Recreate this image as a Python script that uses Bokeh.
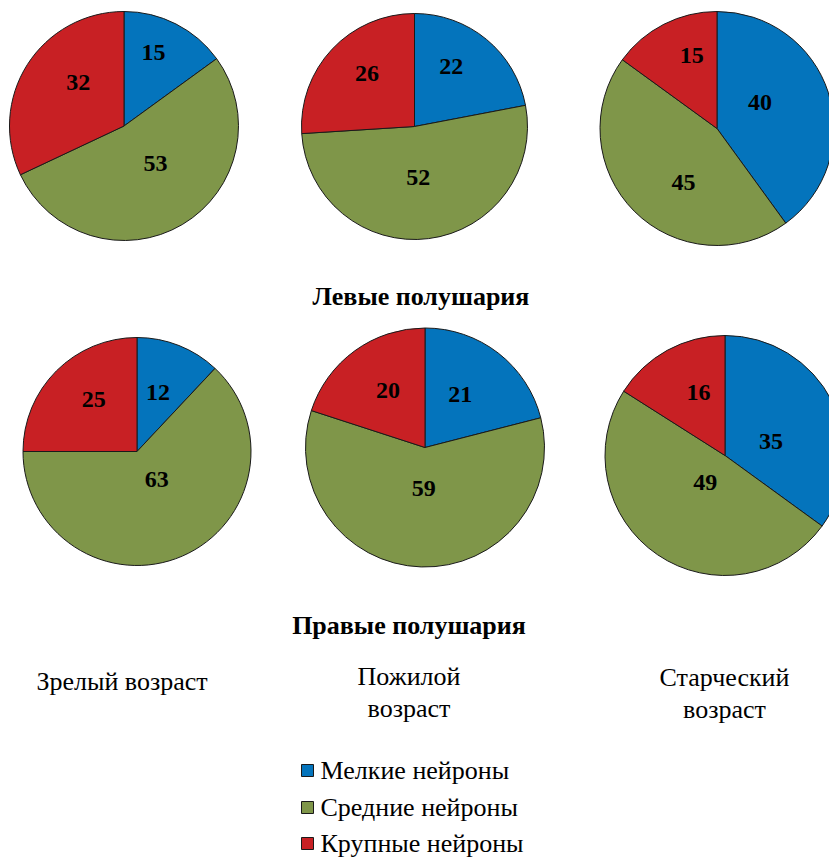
import math
from bokeh.plotting import figure
from bokeh.models import Range1d, ColumnDataSource
from bokeh.embed import file_html
from bokeh.resources import INLINE
from bokeh.core.properties import value

# ---------------- data ----------------
categories = ["Мелкие нейроны", "Средние нейроны", "Крупные нейроны"]
age_groups = ["Зрелый возраст", "Пожилой\nвозраст", "Старческий\nвозраст"]
hemispheres = ["Левые полушария", "Правые полушария"]

left_mature = [15, 53, 32]
left_elderly = [22, 52, 26]
left_senile = [40, 45, 15]
right_mature = [12, 63, 25]
right_elderly = [21, 59, 20]
right_senile = [35, 49, 16]

colors = ["#0474BC", "#7F9649", "#C82024"]

# ---------------- layout (page pixels, y grows downward) ----------------
W, H = 829, 858
pies = [left_mature, left_elderly, left_senile, right_mature, right_elderly, right_senile]
pie_layout = [(123.5, 125.5, 114.5), (414, 126, 113), (716.5, 128, 117),
              (136.5, 451, 114), (424.5, 447, 119.5), (724.5, 455, 120)]
# label placement: fraction of radius and angular nudge (degrees, clockwise)
label_frac = [[0.69, 0.43, 0.55], [0.62, 0.45, 0.63], [0.43, 0.54, 0.66],
              [0.55, 0.30, 0.59], [0.53, 0.34, 0.57], [0.40, 0.28, 0.57]]
label_nudge = [[-5, -9, 11], [-8, 3, 5], [-13, -13, 8],
               [-2, -12, 5], [-4, 0, 3], [10, 2, 6]]
title_pos = [(420.5, 296), (408.5, 625)]
age_pos = [(121.5, 681), (408.5, 676), (724, 677)]
age_line_h = 32
legend_sq_x, legend_text_x = 307, 320
legend_rows = [770, 807, 843]

SERIF = value("Liberation Serif")

p = figure(width=W, height=H, output_backend="svg", toolbar_location=None,
           x_range=Range1d(0, W), y_range=Range1d(-H, 0),
           min_border=0, outline_line_color=None, background_fill_color="white",
           border_fill_color="white")
p.axis.visible = False
p.grid.visible = False

wx, wy, wr, ws, we, wc = [], [], [], [], [], []
lx, ly, lt = [], [], []
for vals, (cx, cy, r), fracs, nudges in zip(pies, pie_layout, label_frac, label_nudge):
    total = float(sum(vals))
    acc = 0.0
    for v, col, f, nd in zip(vals, colors, fracs, nudges):
        a0 = acc / total * 2 * math.pi
        acc += v
        a1 = acc / total * 2 * math.pi
        wx.append(cx); wy.append(-cy); wr.append(r)
        ws.append(math.pi / 2 - a1); we.append(math.pi / 2 - a0); wc.append(col)
        mid = (a0 + a1) / 2 + math.radians(nd)
        lx.append(cx + f * r * math.sin(mid))
        ly.append(-(cy - f * r * math.cos(mid)))
        lt.append(str(v))

p.wedge(x="x", y="y", radius="r", start_angle="s", end_angle="e", direction="anticlock",
        fill_color="c", line_color="#1a1a1a", line_width=1,
        source=ColumnDataSource(dict(x=wx, y=wy, r=wr, s=ws, e=we, c=wc)))

p.text(x=lx, y=ly, text=lt, text_font=SERIF, text_font_style="bold",
       text_font_size="24px", text_align="center", text_baseline="middle",
       text_color="black")

# hemisphere titles
p.text(x=[t[0] for t in title_pos], y=[-t[1] for t in title_pos], text=hemispheres,
       text_font=SERIF, text_font_style="bold", text_font_size="26px",
       text_align="center", text_baseline="middle", text_color="black")

# age group captions
ax, ay, at = [], [], []
for name, (x0, y0) in zip(age_groups, age_pos):
    for i, line in enumerate(name.split("\n")):
        ax.append(x0); ay.append(-(y0 + i * age_line_h)); at.append(line)
p.text(x=ax, y=ay, text=at, text_font=SERIF, text_font_size="26px",
       text_align="center", text_baseline="middle", text_color="black")

# legend
p.scatter(x=[legend_sq_x] * 3, y=[-r for r in legend_rows], marker="square", size=12,
          fill_color=colors, line_color="#1a1a1a", line_width=1)
p.text(x=[legend_text_x] * 3, y=[-r for r in legend_rows], text=categories,
       text_font=SERIF, text_font_size="26px", text_align="left",
       text_baseline="middle", text_color="black")

open("out.html", "w").write(file_html(p, INLINE))
